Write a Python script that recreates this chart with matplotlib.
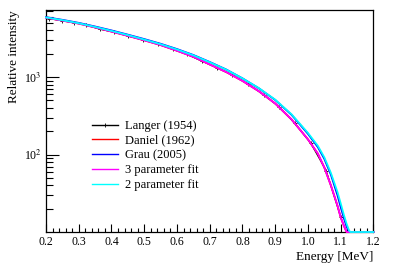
import numpy as np
import matplotlib.pyplot as plt
from matplotlib.ticker import FixedLocator, FixedFormatter, NullFormatter

# Langer (1954) measured points
langer_e = [0.21, 0.248, 0.285, 0.322, 0.365, 0.409, 0.451, 0.497, 0.543, 0.587,
            0.630, 0.675, 0.721, 0.769, 0.818, 0.866, 0.911, 0.960, 1.008, 1.056, 1.100]
langer_i = [5650, 5310, 5010, 4680, 4120, 3770, 3375, 3000, 2640, 2275,
            1960, 1607, 1318, 1061, 805, 586, 414, 253, 141, 61.5, 15.7]

# curves (0 beyond end point)
curve_e = [0.20, 0.25, 0.30, 0.35, 0.40, 0.45, 0.50, 0.55, 0.60, 0.65, 0.70, 0.75,
           0.80, 0.85, 0.90, 0.95, 1.00, 1.03, 1.05, 1.07, 1.09, 1.10, 1.11, 1.118,
           1.126, 1.13, 1.20]
fit3_i = [5800, 5330, 4880, 4350, 3850, 3390, 2970, 2580, 2180, 1820, 1450, 1160,
          890, 655, 455, 283, 157, 103, 68, 40, 22, 15.5, 12.0, 10.0, 0, 0, 0]
daniel_i = fit3_i
grau_i = [5900, 5450, 4980, 4470, 3980, 3510, 3080, 2680, 2290, 1920, 1560, 1250,
          960, 715, 505, 325, 185, 125, 88, 55, 30, 21, 15, 11.8, 10.0, 0, 0]
fit2_i = [5850, 5400, 4930, 4420, 3930, 3470, 3040, 2650, 2265, 1905, 1550, 1245,
          960, 718, 510, 330, 190, 130, 92, 58, 33, 23.5, 16.5, 12.8, 10.4, 10.0, 0]

ymin, ymax = 10.05, 7300

plt.rcParams["font.family"] = ["Liberation Serif", "DejaVu Serif"]
plt.rcParams["mathtext.fontset"] = "stix"

fig = plt.figure(figsize=(3.99, 2.70), dpi=100)
ax = fig.add_axes([0.1153, 0.1407, 0.8207, 0.8223])

def clip(v):
    return np.maximum(np.array(v, dtype=float), ymin)

ax.plot(langer_e, langer_i, color="black", lw=0.8, marker="+", ms=3.5, mew=0.6,
        label="Langer (1954)", zorder=2)
ax.plot(curve_e, clip(daniel_i), color="#ff0000", lw=1.3, label="Daniel (1962)",
        zorder=3, clip_on=False)
ax.plot(curve_e, clip(grau_i), color="#0000ff", lw=1.3, label="Grau (2005)",
        zorder=3, clip_on=False)
ax.plot(curve_e, clip(fit3_i), color="#ff00ff", lw=1.3, label="3 parameter fit",
        zorder=3, clip_on=False)
ax.plot(curve_e, clip(fit2_i), color="#00ffff", lw=1.3, label="2 parameter fit",
        zorder=3, clip_on=False)

ax.set_yscale("log")
ax.set_xlim(0.2, 1.2)
ax.set_ylim(ymin, ymax)

ax.xaxis.set_major_locator(FixedLocator(np.round(np.arange(0.2, 1.21, 0.1), 2)))
ax.xaxis.set_minor_locator(FixedLocator(np.round(np.arange(0.2, 1.21, 0.02), 2)))
ax.set_xticklabels([f"{v:.1f}" for v in np.arange(0.2, 1.21, 0.1)])
ax.yaxis.set_major_locator(FixedLocator([100, 1000]))
ax.yaxis.set_major_formatter(FixedFormatter([r"10$^{2}$", r"10$^{3}$"]))
minors = [m * d for d in (10, 100, 1000) for m in range(2, 10)]
ax.yaxis.set_minor_locator(FixedLocator(minors))
ax.yaxis.set_minor_formatter(NullFormatter())

ax.tick_params(axis="both", which="both", direction="in", top=False, right=False,
               labelsize=8.5, width=0.8, pad=3)
ax.tick_params(axis="x", which="major", length=6)
ax.tick_params(axis="x", which="minor", length=3)
ax.tick_params(axis="y", which="major", length=9)
ax.tick_params(axis="y", which="minor", length=5)
for s in ax.spines.values():
    s.set_linewidth(0.9)

ax.set_xlabel("Energy [MeV]", fontsize=9.5, loc="right", labelpad=2)
ax.set_ylabel("Relative intensity", fontsize=9.5, loc="top", labelpad=3)

leg = ax.legend(loc="upper left", bbox_to_anchor=(0.14, 0.505), frameon=False,
                fontsize=9, handlelength=2.1, handletextpad=0.55, labelspacing=0.22,
                borderpad=0, borderaxespad=0)
for h in leg.get_lines():
    h.set_linewidth(1.0)

fig.savefig("out.png", dpi=100)
